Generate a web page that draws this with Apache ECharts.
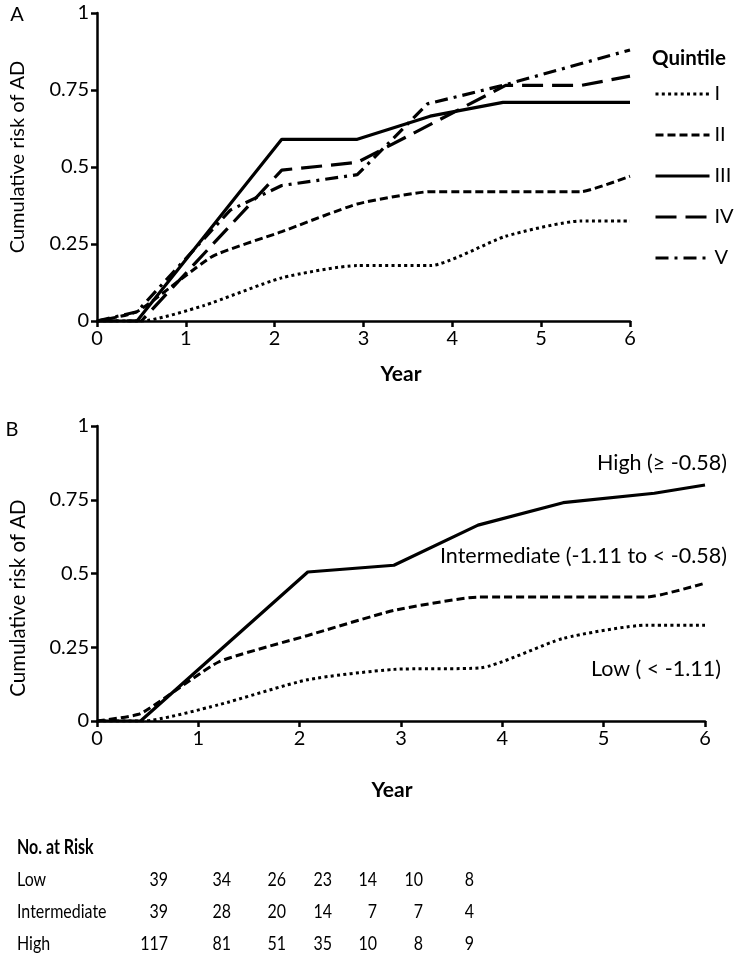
<!DOCTYPE html>
<html>
<head>
<meta charset="utf-8">
<title>Cumulative risk of AD</title>
<script src="https://cdn.jsdelivr.net/npm/echarts@6/dist/echarts.min.js"></script>
<style>
    html, body { margin: 0; padding: 0; background: #fff; }
    #chart { width: 734px; height: 960px; }
</style>
</head>
<body>
<div id="chart"></div>
<script>
    // 图A：五分位 [year, cumulative risk]
    var quintileNames = ['I', 'II', 'III', 'IV', 'V'];
    var q1 = [[0,0],[0.5,0],[1.2,0.05],[2.08,0.14],[2.93,0.18],[3.75,0.18],[4.6,0.275],[5.45,0.325],[6,0.325]];
    var q2 = [[0,0],[0.45,0.03],[1.3,0.21],[2.08,0.29],[2.93,0.38],[3.75,0.42],[5.45,0.42],[6,0.47]];
    var q3 = [[0,0],[0.45,0],[2.08,0.59],[2.93,0.59],[3.75,0.665],[4.57,0.71],[6,0.71]];
    var q4 = [[0,0],[0.5,0],[2.08,0.49],[2.93,0.515],[4.6,0.765],[5.45,0.765],[6,0.795]];
    var q5 = [[0,0],[0.45,0.03],[1.5,0.36],[2.08,0.44],[2.93,0.475],[3.72,0.705],[4.57,0.765],[6,0.88]];

    // 图B：风险分组
    var groupNames = ['Low ( < -1.11)', 'Intermediate (-1.11 to < -0.58)', 'High (\u2265 -0.58)'];
    var low = [[0,0],[0.45,0],[1.2,0.055],[2.08,0.14],[2.93,0.175],[3.78,0.18],[4.6,0.28],[5.43,0.325],[6,0.325]];
    var mid = [[0,0],[0.43,0.025],[1.2,0.2],[2.08,0.29],[2.93,0.375],[3.76,0.42],[5.43,0.42],[6,0.467]];
    var high = [[0,0],[0.43,0],[2.08,0.505],[2.93,0.528],[3.76,0.664],[4.6,0.74],[5.5,0.772],[6,0.8]];

    // 风险人数表
    var riskRows = ['Low', 'Intermediate', 'High'];
    var riskLow = [39, 34, 26, 23, 14, 10, 8];
    var riskMid = [39, 28, 20, 14, 7, 7, 4];
    var riskHigh = [117, 81, 51, 35, 10, 8, 9];

    var yTicks = [0, 0.25, 0.5, 0.75, 1];

    var font = 'Lato';
    var dotted = [3, 3.3];
    var shortDash = [8, 4];
    var longDash = [21, 9];
    var dashDot = [13, 6, 3, 6];

    function xAxisOpt(idx) {
        return {
            gridIndex: idx, type: 'value', min: 0, max: 6, interval: 1,
            axisLine: { lineStyle: { color: '#000', width: 2.5 } },
            axisTick: { lineStyle: { color: '#000', width: 2.5 }, length: 6 },
            axisLabel: { color: '#000', fontFamily: font, fontSize: 20, margin: 8 },
            splitLine: { show: false }
        };
    }
    function yAxisOpt(idx) {
        return {
            gridIndex: idx, type: 'value', min: 0, max: 1, interval: 0.25,
            axisLine: { show: true, lineStyle: { color: '#000', width: 2.5 } },
            axisTick: { show: true, lineStyle: { color: '#000', width: 2.5 }, length: 6 },
            axisLabel: { color: '#000', fontFamily: font, fontSize: 20, margin: 8,
                formatter: function (v) { return yTicks.indexOf(v) >= 0 ? String(v) : ''; } },
            splitLine: { show: false }
        };
    }
    function line(name, data, idx, type, width, smooth) {
        return {
            name: name, type: 'line', xAxisIndex: idx, yAxisIndex: idx,
            data: data, symbol: 'none', smooth: smooth || false,
            lineStyle: { color: '#000', width: width, type: type },
            itemStyle: { color: '#000' },
            silent: true, animation: false
        };
    }

    var graphics = [];
    function txt(x, y, s, opt) {
        opt = opt || {};
        graphics.push({
            type: 'text', x: x, y: y, rotation: opt.rotation || 0,
            scaleX: opt.sx || 1,
            style: {
                text: s, fill: '#000', fontFamily: font,
                fontSize: opt.size || 20, fontWeight: opt.bold ? 'bold' : 'normal',
                textAlign: opt.align || 'left', textVerticalAlign: 'middle'
            }
        });
    }
    txt(17, 15, 'A', { align: 'center' });
    txt(12, 430, 'B', { align: 'center' });
    txt(18, 157, 'Cumulative risk of AD', { align: 'center', rotation: Math.PI / 2, size: 20 });
    txt(18, 598, 'Cumulative risk of AD', { align: 'center', rotation: Math.PI / 2, size: 20.5 });
    txt(401, 374, 'Year', { align: 'center', bold: true, size: 21 });
    txt(392, 790, 'Year', { align: 'center', bold: true, size: 21 });
    txt(652, 58, 'Quintile', { bold: true, size: 20.5 });
    txt(727, 463, groupNames[2], { align: 'right', size: 21.5 });
    txt(727, 556, groupNames[1], { align: 'right', size: 21.5 });
    txt(721, 669, groupNames[0], { align: 'right', size: 21.5 });

    // 表格
    var colX = [168, 231, 286, 332, 377, 423, 474];
    var rowY = [880, 912, 944];
    var riskVals = [riskLow, riskMid, riskHigh];
    txt(17, 848, 'No. at Risk', { bold: true, size: 20, sx: 0.8 });
    riskRows.forEach(function (r, i) {
        txt(17, rowY[i], r, { size: 20, sx: 0.8 });
        riskVals[i].forEach(function (v, j) {
            txt(colX[j], rowY[i], String(v), { size: 20, sx: 0.8, align: 'right' });
        });
    });

    var myChart = echarts.init(document.getElementById('chart'));
    myChart.setOption({
        animation: false,
        backgroundColor: '#fff',
        grid: [
            { left: 97, top: 13, width: 533, height: 308 },
            { left: 97, top: 426, width: 608, height: 295 }
        ],
        xAxis: [xAxisOpt(0), xAxisOpt(1)],
        yAxis: [yAxisOpt(0), yAxisOpt(1)],
        legend: {
            data: quintileNames, orient: 'vertical', left: 649, top: 79,
            itemWidth: 54, itemHeight: 14, itemGap: 21,
            itemStyle: { opacity: 0 },
            lineStyle: { width: 3 },
            textStyle: { color: '#000', fontFamily: font, fontSize: 20 },
            selectedMode: false
        },
        series: [
            line('I', q1, 0, dotted, 3, 0.2),
            line('II', q2, 0, shortDash, 3, 0.15),
            line('III', q3, 0, 'solid', 3.2),
            line('IV', q4, 0, longDash, 3.2),
            line('V', q5, 0, dashDot, 3.2),
            line(groupNames[0], low, 1, dotted, 3, 0.2),
            line(groupNames[1], mid, 1, shortDash, 3, 0.15),
            line(groupNames[2], high, 1, 'solid', 3.2)
        ],
        graphic: graphics
    });
</script>
</body>
</html>
